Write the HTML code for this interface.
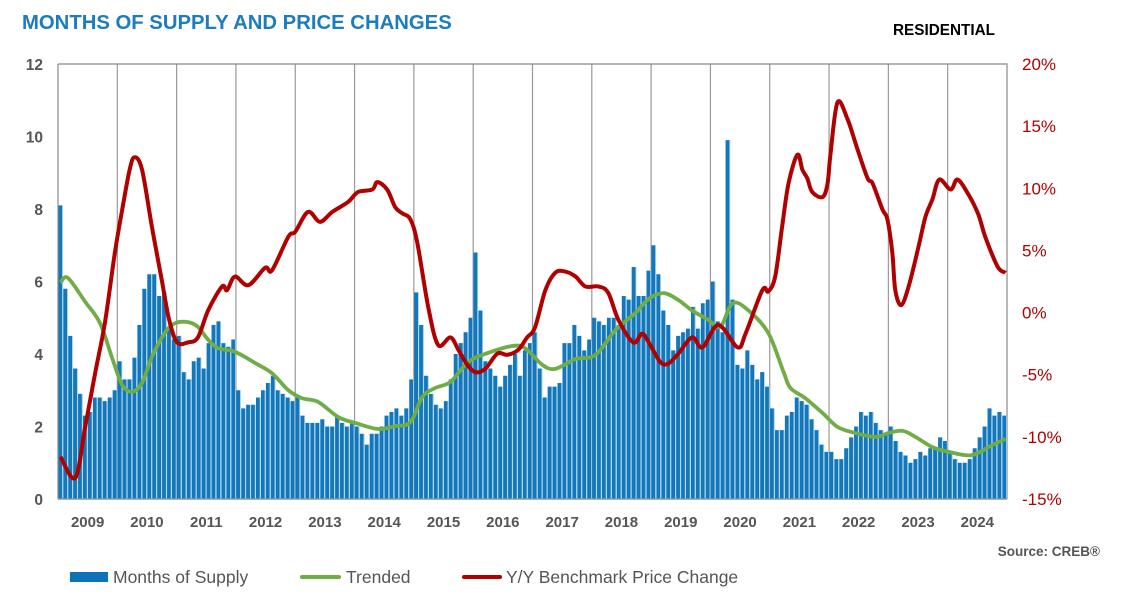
<!DOCTYPE html>
<html><head><meta charset="utf-8"><style>
body{margin:0;background:#fff;width:1127px;height:608px;overflow:hidden;font-family:"Liberation Sans",Arial,sans-serif}
svg{position:absolute;left:0;top:0}
</style></head><body>
<svg id="chart" width="1127" height="608">
<text x="22" y="29" font-size="20.3" font-weight="bold" fill="#1b7cc0">MONTHS OF SUPPLY AND PRICE CHANGES</text>
<text x="893" y="35" font-size="15.3" font-weight="bold" fill="#000">RESIDENTIAL</text>
<text x="1100" y="556" font-size="13.5" font-weight="bold" fill="#555" text-anchor="end">Source: CREB®</text>
<g id="grid"></g><g id="bars"></g><g id="lines"></g><g id="axes"></g>
<g>
<rect x="70" y="572" width="38" height="10" fill="#0e72ba"/>
<text x="113" y="583" font-size="17.5" fill="#555">Months of Supply</text>
<line x1="302" y1="577" x2="339" y2="577" stroke="#70ad47" stroke-width="4" stroke-linecap="round"/>
<text x="346" y="583" font-size="17.5" fill="#555">Trended</text>
<line x1="464" y1="577" x2="500" y2="577" stroke="#b00000" stroke-width="4" stroke-linecap="round"/>
<text x="506" y="583" font-size="17.5" fill="#555">Y/Y Benchmark Price Change</text>
</g>
</svg>
<script>
const years=["2009","2010","2011","2012","2013","2014","2015","2016","2017","2018","2019","2020","2021","2022","2023","2024"];
const leftTicks=[0,2,4,6,8,10,12];
const rightTicks=[-15,-10,-5,0,5,10,15,20];
const supply=[
8.1,5.8,4.5,3.6,2.9,2.3,2.4,2.8,2.8,2.7,2.8,3.0,
3.8,3.3,3.3,3.9,4.8,5.8,6.2,6.2,5.6,5.7,4.7,4.4,
4.5,3.5,3.3,3.8,3.9,3.6,4.3,4.8,4.9,4.3,4.2,4.4,
3.0,2.5,2.6,2.6,2.8,3.0,3.2,3.4,3.0,2.9,2.8,2.7,
2.8,2.3,2.1,2.1,2.1,2.2,2.0,2.0,2.3,2.1,2.0,2.1,
2.0,1.8,1.5,1.8,1.8,2.0,2.3,2.4,2.5,2.3,2.5,3.3,
5.7,4.8,3.4,2.9,2.6,2.5,2.7,3.3,4.0,4.3,4.6,5.0,
6.8,5.2,3.8,3.6,3.4,3.1,3.4,3.7,4.0,3.4,4.1,4.3,
4.6,3.6,2.8,3.1,3.1,3.2,4.3,4.3,4.8,4.5,4.1,4.4,
5.0,4.9,4.8,5.0,5.0,4.8,5.6,5.5,6.4,5.6,5.6,6.3,
7.0,6.2,5.2,4.8,4.1,4.5,4.6,4.7,5.3,4.7,5.4,5.5,
6.0,4.9,4.6,9.9,5.5,3.7,3.6,4.1,3.7,3.3,3.5,3.1,
2.5,1.9,1.9,2.3,2.4,2.8,2.7,2.6,2.2,1.9,1.5,1.3,
1.3,1.1,1.1,1.4,1.7,2.0,2.4,2.3,2.4,2.1,1.9,1.8,
2.0,1.6,1.3,1.2,1.0,1.1,1.3,1.2,1.4,1.4,1.7,1.6,
1.3,1.1,1.0,1.0,1.1,1.4,1.7,2.0,2.5,2.3,2.4,2.3];
const trendMonth=[0,1.5,5,8,10.6,12.5,14.5,16.5,18.5,21.2,23.2,25.8,27.8,29.9,31.9,35.3,39.4,42.8,46.1,48.9,52.1,56.2,59.6,64.3,67.7,70.8,73.2,75.8,78.9,82.5,86.5,91.4,94,97.5,100.1,104.2,108.2,112.3,116.3,119,122,125,127.8,131.1,133.5,136,139.2,143.2,146.3,147.7,150.7,154.2,157.2,160.8,164.9,167.5,170.4,173,176.4,179.7,183.1,185.1,188.6,191.2];
const trendValue=[5.97,6.1,5.44,4.85,3.83,3.14,2.96,3.2,3.92,4.6,4.85,4.88,4.75,4.39,4.16,4.06,3.75,3.47,3.0,2.78,2.68,2.26,2.1,1.93,2.01,2.12,2.81,3.06,3.23,3.78,4.03,4.22,4.16,3.7,3.59,3.86,3.97,4.66,5.13,5.52,5.68,5.49,5.2,4.94,4.75,5.4,5.2,4.58,3.5,3.06,2.78,2.37,1.99,1.82,1.71,1.82,1.88,1.71,1.43,1.3,1.21,1.24,1.49,1.66];
const priceMonth=[0,3,5,7,9,11,12.5,14,15,16.5,18.5,20.5,22,23.6,25.8,27.8,29.9,32.7,33.7,35.3,38,41.4,42.8,46.1,47.5,50.1,52.5,55,58.2,60.2,63.1,64.1,66.1,67.7,69.1,70.8,72.2,74.4,76.4,78.9,80.5,82.3,84,86,88.4,90.4,92.6,94.4,96,98.1,100.1,102.1,104.2,106.2,108.8,110.8,112.9,115.9,117.7,119.3,121.4,123,125,127.8,129.9,133.1,137,138.6,142,143.2,144.6,146,147.3,149.1,150.1,151.1,152.1,154.2,155.2,155.8,157.2,159.2,161.2,163.3,164.3,166.3,167.3,168.3,168.9,170.1,171.6,173.6,175,176.4,177.8,180.1,181.5,183.7,185.7,187.1,189.6,191.2];
const priceValue=[-11.6,-13.3,-9.2,-4.9,-0.8,4.8,8.3,11.5,12.5,11.5,6.9,2.6,-0.6,-2.4,-2.4,-2.0,0.2,2.1,1.8,2.9,2.2,3.6,3.4,6.1,6.5,8.1,7.3,8.1,8.9,9.7,9.9,10.5,9.9,8.5,8.0,7.5,5.6,0.45,-2.6,-2.0,-3.0,-4.2,-4.8,-4.5,-3.3,-3.4,-3.0,-2.0,-1.2,1.8,3.2,3.3,2.9,2.1,2.1,1.6,-0.6,-2.4,-1.7,-2.6,-4.0,-4.1,-3.3,-2.0,-2.8,-1.0,-2.8,-1.7,1.8,1.7,2.9,6.9,10.4,12.7,11.5,10.8,9.7,9.3,10.4,12.8,16.9,15.6,13.2,10.8,10.4,8.3,7.5,4.8,1.8,0.6,2.1,5.3,7.7,9.1,10.7,9.9,10.7,9.5,7.9,6.1,3.7,3.2];

const NS="http://www.w3.org/2000/svg";
const L=58,R=1007,T=64,B=499,N=192,bw=(R-L)/N;
const xm=t=>L+(t+0.5)*bw;
const yl=v=>B-(v/12)*(B-T);
const yr=v=>B-((v+15)/35)*(B-T);
function mk(tag,attrs,parent){const e=document.createElementNS(NS,tag);for(const k in attrs)e.setAttribute(k,attrs[k]);parent.appendChild(e);return e;}
const grid=document.getElementById('grid'),bars=document.getElementById('bars'),lines=document.getElementById('lines'),axes=document.getElementById('axes');
years.forEach((y,i)=>{
  const x=L+i*12*bw;
  if(i>0){const g=mk('line',{x1:x,y1:T,x2:x,y2:B,stroke:'#999','stroke-width':1.2},grid);
  
  }
  const t=mk('text',{x:x+6*bw,y:527,'font-size':15,'font-weight':'bold',fill:'#555','text-anchor':'middle'},axes);t.textContent=y;
  
  
});
const fr=mk('path',{d:`M${L} ${T}H${R}V${B}`,fill:'none',stroke:'#888','stroke-width':1.2},grid);


supply.forEach((v,i)=>{
  const x=L+i*bw+0.3;
  const r=mk('rect',{x:x,y:yl(v),width:bw-1.1,height:B-yl(v),fill:'#1576b9'},bars);
  
  
  const s=mk('rect',{x:x+bw-1.1,y:yl(v),width:0.8,height:B-yl(v),fill:'#8fd0f0'},bars);
  
  
});
const ax=mk('line',{x1:L,y1:B,x2:R,y2:B,stroke:'#7a9aae','stroke-width':1.5},axes);


const lax=mk('line',{x1:L,y1:T,x2:L,y2:B,stroke:'#888','stroke-width':1.2},axes);


function smooth(pts){let d=`M${pts[0][0]} ${pts[0][1]}`;for(let i=0;i<pts.length-1;i++){const p0=pts[Math.max(0,i-1)],p1=pts[i],p2=pts[i+1],p3=pts[Math.min(pts.length-1,i+2)];const c1=[p1[0]+(p2[0]-p0[0])/6,p1[1]+(p2[1]-p0[1])/6],c2=[p2[0]-(p3[0]-p1[0])/6,p2[1]-(p3[1]-p1[1])/6];d+=`C${c1[0]} ${c1[1]} ${c2[0]} ${c2[1]} ${p2[0]} ${p2[1]}`;}return d;}
const tl=mk('path',{d:smooth(trendMonth.map((m,i)=>[xm(m),yl(trendValue[i])])),fill:'none',stroke:'#70ad47','stroke-width':3.8,'stroke-linejoin':'round'},lines);


const pl=mk('path',{d:smooth(priceMonth.map((m,i)=>[xm(m),yr(priceValue[i])])),fill:'none',stroke:'#b00000','stroke-width':4,'stroke-linejoin':'round'},lines);


leftTicks.forEach(v=>{const t=mk('text',{x:43,y:yl(v)+6,'font-size':15.5,'font-weight':'bold',fill:'#555','text-anchor':'end'},axes);t.textContent=v;
  
  });
rightTicks.forEach(v=>{const t=mk('text',{x:1022,y:yr(v)+6,'font-size':17,fill:'#b00000'},axes);t.textContent=v+'%';
  
  });
</script>
</body></html>
